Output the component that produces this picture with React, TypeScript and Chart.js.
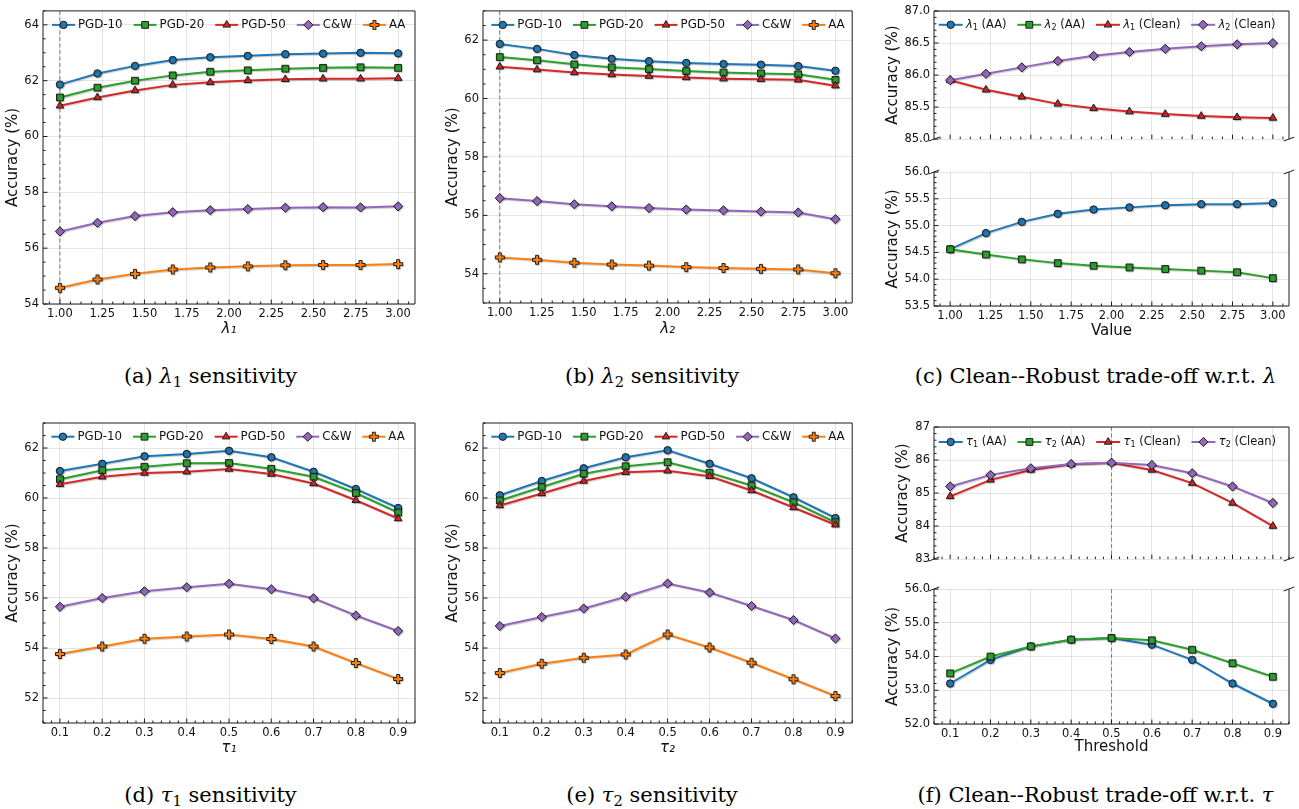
import React, { useEffect, useRef } from 'react';
import { Chart, registerables } from 'chart.js';
Chart.register(...registerables);

// ---------------- data ----------------
const LAMBDA_X = [1.0, 1.222, 1.444, 1.667, 1.889, 2.111, 2.333, 2.556, 2.778, 3.0];
const TAU_X = [0.1, 0.2, 0.3, 0.4, 0.5, 0.6, 0.7, 0.8, 0.9];
const LAMBDA_TICKS = [1.0, 1.25, 1.5, 1.75, 2.0, 2.25, 2.5, 2.75, 3.0];
const TAU_TICKS = [0.1, 0.2, 0.3, 0.4, 0.5, 0.6, 0.7, 0.8, 0.9];
const ATTACKS = ['PGD-10', 'PGD-20', 'PGD-50', 'C&W', 'AA'];

// (a) lambda_1 sensitivity
const A_PGD10 = [61.86, 62.26, 62.53, 62.74, 62.84, 62.89, 62.95, 62.97, 63.0, 62.98];
const A_PGD20 = [61.4, 61.75, 62.0, 62.19, 62.32, 62.37, 62.43, 62.46, 62.48, 62.46];
const A_PGD50 = [61.1, 61.4, 61.65, 61.85, 61.94, 62.01, 62.05, 62.07, 62.07, 62.09];
const A_CW = [56.6, 56.91, 57.15, 57.29, 57.36, 57.4, 57.45, 57.47, 57.46, 57.5];
const A_AA = [54.58, 54.88, 55.08, 55.24, 55.31, 55.35, 55.39, 55.4, 55.4, 55.43];
const A_Y_TICKS = [54, 56, 58, 60, 62, 64];

// (b) lambda_2 sensitivity
const B_PGD10 = [61.87, 61.7, 61.49, 61.36, 61.28, 61.22, 61.18, 61.16, 61.11, 60.95];
const B_PGD20 = [61.42, 61.31, 61.17, 61.07, 61.01, 60.94, 60.89, 60.86, 60.83, 60.64];
const B_PGD50 = [61.09, 60.99, 60.89, 60.82, 60.77, 60.72, 60.68, 60.66, 60.64, 60.44];
const B_CW = [56.59, 56.49, 56.38, 56.31, 56.25, 56.2, 56.17, 56.13, 56.1, 55.87];
const B_AA = [54.56, 54.48, 54.38, 54.32, 54.28, 54.23, 54.2, 54.17, 54.15, 54.02];
const B_Y_TICKS = [54, 56, 58, 60, 62];

// (c) clean-robust trade-off wrt lambda
const C_L1_AA = [54.56, 54.86, 55.07, 55.22, 55.3, 55.34, 55.38, 55.4, 55.4, 55.42];
const C_L2_AA = [54.56, 54.46, 54.37, 54.3, 54.25, 54.22, 54.19, 54.16, 54.13, 54.02];
const C_L1_CLEAN = [85.92, 85.77, 85.66, 85.55, 85.48, 85.43, 85.39, 85.36, 85.34, 85.33];
const C_L2_CLEAN = [85.92, 86.02, 86.12, 86.22, 86.3, 86.36, 86.41, 86.45, 86.48, 86.5];
const C_TOP_Y_TICKS = [85, 85.5, 86, 86.5, 87];
const C_BOT_Y_TICKS = [53.5, 54, 54.5, 55, 55.5, 56];

// (d) tau_1 sensitivity
const D_PGD10 = [61.08, 61.37, 61.67, 61.76, 61.89, 61.63, 61.05, 60.36, 59.6];
const D_PGD20 = [60.75, 61.11, 61.25, 61.39, 61.4, 61.17, 60.85, 60.2, 59.42];
const D_PGD50 = [60.55, 60.85, 61.0, 61.05, 61.16, 60.96, 60.58, 59.91, 59.18];
const D_CW = [55.65, 56.0, 56.27, 56.43, 56.57, 56.35, 55.99, 55.3, 54.68];
const D_AA = [53.76, 54.06, 54.37, 54.46, 54.54, 54.36, 54.06, 53.4, 52.76];

// (e) tau_2 sensitivity
const E_PGD10 = [60.11, 60.68, 61.19, 61.63, 61.91, 61.37, 60.79, 60.03, 59.2];
const E_PGD20 = [59.9, 60.44, 60.97, 61.27, 61.43, 61.01, 60.5, 59.83, 59.03];
const E_PGD50 = [59.7, 60.18, 60.68, 61.03, 61.09, 60.87, 60.3, 59.62, 58.93];
const E_CW = [54.88, 55.24, 55.58, 56.05, 56.58, 56.22, 55.68, 55.12, 54.38];
const E_AA = [53.0, 53.37, 53.61, 53.74, 54.54, 54.02, 53.41, 52.75, 52.08];
const DE_Y_TICKS = [52, 54, 56, 58, 60, 62];

// (f) clean-robust trade-off wrt tau
const F_T1_AA = [53.2, 53.9, 54.3, 54.5, 54.55, 54.35, 53.9, 53.2, 52.6];
const F_T2_AA = [53.5, 54.0, 54.3, 54.5, 54.55, 54.48, 54.2, 53.8, 53.4];
const F_T1_CLEAN = [84.9, 85.4, 85.7, 85.87, 85.92, 85.7, 85.3, 84.7, 84.0];
const F_T2_CLEAN = [85.2, 85.55, 85.75, 85.88, 85.92, 85.85, 85.6, 85.2, 84.7];
const F_TOP_Y_TICKS = [83, 84, 85, 86, 87];
const F_BOT_Y_TICKS = [52, 53, 54, 55, 56];

// ---------------- styles ----------------
const FONT = '"DejaVu Sans", sans-serif';
const SERIF = '"DejaVu Serif", serif';
const BLUE = '#1f77b4';
const GREEN = '#2ca02c';
const RED = '#d62728';
const PURPLE = '#9467bd';
const ORANGE = '#ff7f0e';
const EDGE = '#1c1c1c';
const GRID = 'rgba(0,0,0,0.1)';
const TEXT = '#111';

type Seg = { t: string; it?: boolean; sub?: boolean };
type Marker = 'o' | 's' | '^' | 'D' | 'P';
type Series = { name: string; segs: Seg[]; data: number[]; color: string; marker: Marker };

const STYLE5: { color: string; marker: Marker }[] = [
  { color: BLUE, marker: 'o' },
  { color: GREEN, marker: 's' },
  { color: RED, marker: '^' },
  { color: PURPLE, marker: 'D' },
  { color: ORANGE, marker: 'P' },
];

const RADIUS: Record<Marker, number> = { o: 3.7, s: 4.8, '^': 4.4, D: 4.6, P: 4 };

function makePlus(color: string): HTMLCanvasElement {
  const c = document.createElement('canvas');
  c.width = 12;
  c.height = 12;
  const g = c.getContext('2d')!;
  const cx = 6, cy = 6, a = 1.5, L = 4.5;
  const pts = [
    [-a, -L], [a, -L], [a, -a], [L, -a], [L, a], [a, a],
    [a, L], [-a, L], [-a, a], [-L, a], [-L, -a], [-a, -a],
  ];
  g.beginPath();
  pts.forEach(([x, y], i) => (i === 0 ? g.moveTo(cx + x, cy + y) : g.lineTo(cx + x, cy + y)));
  g.closePath();
  g.fillStyle = color;
  g.fill();
  g.strokeStyle = EDGE;
  g.lineWidth = 1;
  g.stroke();
  return c;
}

let PLUS: HTMLCanvasElement | null = null;
function plusImg() {
  if (!PLUS) PLUS = makePlus(ORANGE);
  return PLUS;
}

function pointStyleOf(m: Marker): any {
  switch (m) {
    case 'o': return 'circle';
    case 's': return 'rect';
    case '^': return 'triangle';
    case 'D': return 'rectRot';
    default: return plusImg();
  }
}

function drawMarker(ctx: CanvasRenderingContext2D, m: Marker, x: number, y: number, color: string) {
  ctx.save();
  if (m === 'P') {
    const img = plusImg();
    ctx.drawImage(img, x - img.width / 2, y - img.height / 2);
    ctx.restore();
    return;
  }
  const r = RADIUS[m];
  ctx.fillStyle = color;
  ctx.strokeStyle = EDGE;
  ctx.lineWidth = 1;
  ctx.beginPath();
  if (m === 'o') ctx.arc(x, y, r, 0, Math.PI * 2);
  else if (m === 's') {
    const h = r * Math.SQRT1_2;
    ctx.rect(x - h, y - h, 2 * h, 2 * h);
  } else if (m === '^') {
    let rad = 0;
    ctx.moveTo(x + Math.sin(rad) * r, y - Math.cos(rad) * r);
    rad += (2 * Math.PI) / 3;
    ctx.lineTo(x + Math.sin(rad) * r, y - Math.cos(rad) * r);
    rad += (2 * Math.PI) / 3;
    ctx.lineTo(x + Math.sin(rad) * r, y - Math.cos(rad) * r);
    ctx.closePath();
  } else {
    ctx.moveTo(x - r, y);
    ctx.lineTo(x, y - r);
    ctx.lineTo(x + r, y);
    ctx.lineTo(x, y + r);
    ctx.closePath();
  }
  ctx.fill();
  ctx.stroke();
  ctx.restore();
}

function segFont(s: Seg, size: number) {
  return `${s.it ? 'italic ' : ''}${s.sub ? size * 0.7 : size}px ${FONT}`;
}

function drawSegs(ctx: CanvasRenderingContext2D, segs: Seg[], x: number, y: number, size: number) {
  ctx.save();
  ctx.fillStyle = TEXT;
  ctx.textBaseline = 'middle';
  ctx.textAlign = 'left';
  let w = 0;
  for (const s of segs) {
    ctx.font = segFont(s, size);
    ctx.fillText(s.t, x + w, y + (s.sub ? size * 0.25 : 0));
    w += ctx.measureText(s.t).width;
  }
  ctx.restore();
  return w;
}

type AxisSpec = { min: number; max: number; ticks: number[]; minor: number; dec: number; labels: boolean };
type Spec = {
  left: number; top: number; width: number; height: number;
  area: { l: number; t: number; r: number; b: number };
  xs: number[];
  series: Series[];
  x: AxisSpec;
  y: AxisSpec;
  xTitle?: { text: string; italic?: boolean; cy: number };
  yTitleCx: number;
  legend?: { dx: number; dy: number; size: number; line: number; gap: number; space: number; items: Series[] };
  vline?: number;
  topSpine: boolean;
  bottomSpine: boolean;
  breakAt?: 'top' | 'bottom';
};

function attackSeries(vals: number[][]): Series[] {
  return ATTACKS.map((n, i) => ({ name: n, segs: [{ t: n }], data: vals[i], ...STYLE5[i] }));
}

function symSeries(sym: string, idx: string, kind: string, data: number[], k: number): Series {
  return {
    name: `${sym}${idx} (${kind})`,
    segs: [{ t: sym, it: true }, { t: idx, sub: true }, { t: ` (${kind})` }],
    data,
    ...STYLE5[k],
  };
}

const LAM_X_AXIS: AxisSpec = { min: 0.9, max: 3.1, ticks: LAMBDA_TICKS, minor: 0.0625, dec: 2, labels: true };
const TAU_X_AXIS: AxisSpec = { min: 0.06, max: 0.94, ticks: TAU_TICKS, minor: 0.02, dec: 1, labels: true };

const STD_LEGEND = { dx: 9, dy: 14, size: 11.8, line: 23, gap: 3, space: 11 };
const TRADE_LEGEND = { dx: 4.7, dy: 13.8, size: 11.5, line: 24, gap: 3.3, space: 10.7 };

const A_SERIES = attackSeries([A_PGD10, A_PGD20, A_PGD50, A_CW, A_AA]);
const B_SERIES = attackSeries([B_PGD10, B_PGD20, B_PGD50, B_CW, B_AA]);
const D_SERIES = attackSeries([D_PGD10, D_PGD20, D_PGD50, D_CW, D_AA]);
const E_SERIES = attackSeries([E_PGD10, E_PGD20, E_PGD50, E_CW, E_AA]);

const C_ALL = [
  symSeries('λ', '1', 'AA', C_L1_AA, 0),
  symSeries('λ', '2', 'AA', C_L2_AA, 1),
  symSeries('λ', '1', 'Clean', C_L1_CLEAN, 2),
  symSeries('λ', '2', 'Clean', C_L2_CLEAN, 3),
];
const F_ALL = [
  symSeries('τ', '1', 'AA', F_T1_AA, 0),
  symSeries('τ', '2', 'AA', F_T2_AA, 1),
  symSeries('τ', '1', 'Clean', F_T1_CLEAN, 2),
  symSeries('τ', '2', 'Clean', F_T2_CLEAN, 3),
];

const SPECS: Spec[] = [
  {
    left: 0, top: 0, width: 425, height: 340,
    area: { l: 43, t: 5, r: 415, b: 304 },
    xs: LAMBDA_X, series: A_SERIES, x: LAM_X_AXIS,
    y: { min: 54, max: 64.5, ticks: A_Y_TICKS, minor: 0.5, dec: 0, labels: true },
    xTitle: { text: 'λ₁', italic: true, cy: 329 }, yTitleCx: 13.5,
    legend: { ...STD_LEGEND, items: A_SERIES }, vline: 1.0, topSpine: true, bottomSpine: true,
  },
  {
    left: 433, top: 0, width: 425, height: 340,
    area: { l: 483, t: 5, r: 855, b: 303 },
    xs: LAMBDA_X, series: B_SERIES, x: LAM_X_AXIS,
    y: { min: 53, max: 63, ticks: B_Y_TICKS, minor: 0.5, dec: 0, labels: true },
    xTitle: { text: 'λ₂', italic: true, cy: 329 }, yTitleCx: 452.7,
    legend: { ...STD_LEGEND, dx: 8.3, items: B_SERIES }, vline: 1.0, topSpine: true, bottomSpine: true,
  },
  {
    left: 866, top: 0, width: 433, height: 150,
    area: { l: 934, t: 11, r: 1289, b: 145 },
    xs: LAMBDA_X, series: [C_ALL[2], C_ALL[3]], x: { ...LAM_X_AXIS, labels: false },
    y: { min: 85, max: 87, ticks: C_TOP_Y_TICKS, minor: 0.1, dec: 1, labels: true },
    yTitleCx: 893.5,
    legend: { ...TRADE_LEGEND, items: C_ALL }, topSpine: true, bottomSpine: false, breakAt: 'bottom',
  },
  {
    left: 866, top: 160, width: 433, height: 183,
    area: { l: 934, t: 172, r: 1289, b: 306 },
    xs: LAMBDA_X, series: [C_ALL[0], C_ALL[1]], x: LAM_X_AXIS,
    y: { min: 53.5, max: 56, ticks: C_BOT_Y_TICKS, minor: 0.1, dec: 1, labels: true },
    xTitle: { text: 'Value', cy: 331.5 }, yTitleCx: 892.7,
    topSpine: false, bottomSpine: true, breakAt: 'top',
  },
  {
    left: 0, top: 410, width: 425, height: 349,
    area: { l: 43, t: 423, r: 415, b: 723 },
    xs: TAU_X, series: D_SERIES, x: TAU_X_AXIS,
    y: { min: 51, max: 63, ticks: DE_Y_TICKS, minor: 0.5, dec: 0, labels: true },
    xTitle: { text: 'τ₁', italic: true, cy: 748 }, yTitleCx: 13.5,
    legend: { ...STD_LEGEND, dx: 8.4, dy: 13.7, items: D_SERIES }, topSpine: true, bottomSpine: true,
  },
  {
    left: 433, top: 410, width: 425, height: 349,
    area: { l: 483, t: 423, r: 855, b: 723 },
    xs: TAU_X, series: E_SERIES, x: TAU_X_AXIS,
    y: { min: 51, max: 63, ticks: DE_Y_TICKS, minor: 0.5, dec: 0, labels: true },
    xTitle: { text: 'τ₂', italic: true, cy: 748 }, yTitleCx: 453,
    legend: { ...STD_LEGEND, dx: 8.3, dy: 13.7, items: E_SERIES }, topSpine: true, bottomSpine: true,
  },
  {
    left: 866, top: 410, width: 433, height: 160,
    area: { l: 934, t: 427, r: 1289, b: 563 },
    xs: TAU_X, series: [F_ALL[2], F_ALL[3]], x: { ...TAU_X_AXIS, labels: false },
    y: { min: 83, max: 87, ticks: F_TOP_Y_TICKS, minor: 0.2, dec: 0, labels: true },
    yTitleCx: 903.3,
    legend: { ...TRADE_LEGEND, dy: 15, items: F_ALL }, vline: 0.5, topSpine: true, bottomSpine: false, breakAt: 'bottom',
  },
  {
    left: 866, top: 575, width: 433, height: 183,
    area: { l: 934, t: 589, r: 1289, b: 724 },
    xs: TAU_X, series: [F_ALL[0], F_ALL[1]], x: TAU_X_AXIS,
    y: { min: 52, max: 56, ticks: F_BOT_Y_TICKS, minor: 0.2, dec: 1, labels: true },
    xTitle: { text: 'Threshold', cy: 747 }, yTitleCx: 892.7,
    vline: 0.5, topSpine: false, bottomSpine: true, breakAt: 'top',
  },
];

function minorValues(ax: AxisSpec, majorStep: number) {
  const out: number[] = [];
  const k0 = Math.ceil(ax.min / ax.minor - 1e-9);
  const k1 = Math.floor(ax.max / ax.minor + 1e-9);
  for (let k = k0; k <= k1; k++) {
    const v = k * ax.minor;
    const q = v / majorStep;
    if (Math.abs(q - Math.round(q)) < 1e-6) continue;
    out.push(v);
  }
  return out;
}

function decorPlugin(spec: Spec) {
  return {
    id: 'decor',
    beforeDatasetsDraw(chart: any) {
      if (spec.vline === undefined) return;
      const { ctx, chartArea: ca, scales } = chart;
      const px = scales.x.getPixelForValue(spec.vline);
      ctx.save();
      ctx.strokeStyle = 'rgba(115,115,115,0.85)';
      ctx.lineWidth = 1.1;
      ctx.setLineDash([4, 2.5]);
      ctx.beginPath();
      ctx.moveTo(px, ca.top);
      ctx.lineTo(px, ca.bottom);
      ctx.stroke();
      ctx.restore();
    },
    beforeDatasetDraw(chart: any) {
      const ctx = chart.ctx;
      ctx.save();
      ctx.shadowColor = 'rgba(0,0,0,0.2)';
      ctx.shadowOffsetX = 1;
      ctx.shadowOffsetY = 1;
      ctx.shadowBlur = 1;
    },
    afterDatasetDraw(chart: any) {
      chart.ctx.restore();
    },
    afterDraw(chart: any) {
      const { ctx, chartArea: ca, scales } = chart;
      const { left: l, right: r, top: t, bottom: b } = ca;
      ctx.save();
      ctx.strokeStyle = EDGE;
      ctx.lineWidth = 1;
      // spines
      ctx.beginPath();
      ctx.moveTo(l, t); ctx.lineTo(l, b);
      ctx.moveTo(r, t); ctx.lineTo(r, b);
      if (spec.topSpine) { ctx.moveTo(l, t); ctx.lineTo(r, t); }
      if (spec.bottomSpine) { ctx.moveTo(l, b); ctx.lineTo(r, b); }
      ctx.stroke();
      // ticks (inward)
      const xMajStep = spec.x.ticks[1] - spec.x.ticks[0];
      const yMajStep = spec.y.ticks[1] - spec.y.ticks[0];
      ctx.beginPath();
      for (const v of spec.x.ticks) {
        const px = scales.x.getPixelForValue(v);
        ctx.moveTo(px, b); ctx.lineTo(px, b - 4.5);
      }
      for (const v of minorValues(spec.x, xMajStep)) {
        const px = scales.x.getPixelForValue(v);
        ctx.moveTo(px, b); ctx.lineTo(px, b - 2.5);
      }
      for (const v of spec.y.ticks) {
        const py = scales.y.getPixelForValue(v);
        ctx.moveTo(l, py); ctx.lineTo(l + 4.5, py);
      }
      for (const v of minorValues(spec.y, yMajStep)) {
        const py = scales.y.getPixelForValue(v);
        ctx.moveTo(l, py); ctx.lineTo(l + 2.5, py);
      }
      ctx.stroke();
      // broken-axis marks
      if (spec.breakAt) {
        const yy = spec.breakAt === 'bottom' ? b : t;
        const dx = 0.015 * (r - l), dy = 0.015 * (b - t);
        ctx.beginPath();
        for (const xx of [l, r]) {
          ctx.moveTo(xx - dx, yy + dy);
          ctx.lineTo(xx + dx, yy - dy);
        }
        ctx.stroke();
      }
      ctx.restore();
      // legend inside axes
      const lg = spec.legend;
      if (lg) {
        let x = l + lg.dx;
        const y = t + lg.dy;
        for (const it of lg.items) {
          ctx.save();
          ctx.strokeStyle = it.color;
          ctx.lineWidth = 2;
          ctx.beginPath();
          ctx.moveTo(x, y);
          ctx.lineTo(x + lg.line, y);
          ctx.stroke();
          ctx.restore();
          drawMarker(ctx, it.marker, x + lg.line / 2, y, it.color);
          x += lg.line + lg.gap;
          x += drawSegs(ctx, it.segs, x, y, lg.size);
          x += lg.space;
        }
      }
    },
  };
}

function buildConfig(spec: Spec): any {
  const a = spec.area;
  const yAxisW = a.l - spec.left;
  const xAxisH = spec.top + spec.height - a.b;
  const n = spec.series.length;
  const titleLH = 18;
  const tickFont = { family: FONT, size: 11.5 };
  return {
    type: 'line',
    data: {
      datasets: spec.series.map((s, i) => ({
        label: s.name,
        data: spec.xs.map((x, j) => ({ x, y: s.data[j] })),
        borderColor: s.color,
        backgroundColor: s.color,
        borderWidth: 2,
        tension: 0,
        pointStyle: pointStyleOf(s.marker),
        pointRadius: RADIUS[s.marker],
        pointHoverRadius: RADIUS[s.marker],
        pointBorderColor: EDGE,
        pointBorderWidth: 1,
        pointBackgroundColor: s.color,
        order: n - i,
      })),
    },
    options: {
      animation: false,
      responsive: false,
      devicePixelRatio: 1,
      events: [],
      layout: { padding: { left: 0, bottom: 0, top: a.t - spec.top, right: spec.left + spec.width - a.r } },
      plugins: { legend: { display: false }, tooltip: { enabled: false }, title: { display: false } },
      scales: {
        x: {
          type: 'linear',
          min: spec.x.min,
          max: spec.x.max,
          afterBuildTicks: (s: any) => { s.ticks = spec.x.ticks.map((v) => ({ value: v })); },
          afterFit: (s: any) => { s.height = xAxisH; },
          ticks: {
            display: spec.x.labels,
            font: tickFont,
            color: TEXT,
            padding: 3,
            maxRotation: 0,
            autoSkip: false,
            callback: (v: number) => Number(v).toFixed(spec.x.dec),
          },
          grid: { color: GRID, lineWidth: 1, drawTicks: false },
          border: { display: false },
          title: spec.xTitle
            ? {
                display: true,
                text: spec.xTitle.text,
                color: TEXT,
                font: { family: FONT, size: 15, style: spec.xTitle.italic ? 'italic' : 'normal', lineHeight: 1.2 },
                padding: { top: 0, bottom: Math.max(0, spec.top + spec.height - spec.xTitle.cy - titleLH / 2) },
              }
            : { display: false },
        },
        y: {
          type: 'linear',
          min: spec.y.min,
          max: spec.y.max,
          afterBuildTicks: (s: any) => { s.ticks = spec.y.ticks.map((v) => ({ value: v })); },
          afterFit: (s: any) => { s.width = yAxisW; },
          ticks: {
            font: tickFont,
            color: TEXT,
            padding: 4,
            autoSkip: false,
            callback: (v: number) => Number(v).toFixed(spec.y.dec),
          },
          grid: { color: GRID, lineWidth: 1, drawTicks: false },
          border: { display: false },
          title: {
            display: true,
            text: 'Accuracy (%)',
            color: TEXT,
            font: { family: FONT, size: 15, lineHeight: 1.2 },
            padding: { top: Math.max(0, spec.yTitleCx - spec.left - titleLH / 2), bottom: 0 },
          },
        },
      },
    },
    plugins: [decorPlugin(spec)],
  };
}

function ChartBox({ spec }: { spec: Spec }) {
  const ref = useRef<HTMLCanvasElement>(null);
  useEffect(() => {
    if (!ref.current) return;
    const chart = new Chart(ref.current, buildConfig(spec));
    return () => chart.destroy();
  }, [spec]);
  return (
    <canvas
      ref={ref}
      width={spec.width}
      height={spec.height}
      style={{ position: 'absolute', left: spec.left, top: spec.top, width: spec.width, height: spec.height, display: 'block' }}
    />
  );
}

const subStyle: React.CSSProperties = { fontSize: '0.7em', verticalAlign: '-0.3em', lineHeight: 0 };

function Caption({ cx, cy, children }: { cx: number; cy: number; children: React.ReactNode }) {
  return (
    <div
      style={{
        position: 'absolute',
        left: cx,
        top: cy,
        transform: 'translate(-50%, -50%)',
        whiteSpace: 'nowrap',
        fontFamily: SERIF,
        fontSize: 21,
        lineHeight: 1,
        color: '#000',
      }}
    >
      {children}
    </div>
  );
}

export default function App() {
  return (
    <div style={{ position: 'absolute', left: 0, top: 0, width: 1299, height: 809, background: '#fff', overflow: 'hidden' }}>
      {SPECS.map((s, i) => (
        <ChartBox key={i} spec={s} />
      ))}
      <Caption cx={210.5} cy={376}>(a) <i>λ</i><sub style={subStyle}>1</sub> sensitivity</Caption>
      <Caption cx={652} cy={376}>(b) <i>λ</i><sub style={subStyle}>2</sub> sensitivity</Caption>
      <Caption cx={1095.5} cy={376}>(c) Clean--Robust trade-off w.r.t. <i>λ</i></Caption>
      <Caption cx={210.5} cy={795}>(d) <i>τ</i><sub style={subStyle}>1</sub> sensitivity</Caption>
      <Caption cx={652} cy={795}>(e) <i>τ</i><sub style={subStyle}>2</sub> sensitivity</Caption>
      <Caption cx={1095.5} cy={795}>(f) Clean--Robust trade-off w.r.t. <i>τ</i></Caption>
    </div>
  );
}
